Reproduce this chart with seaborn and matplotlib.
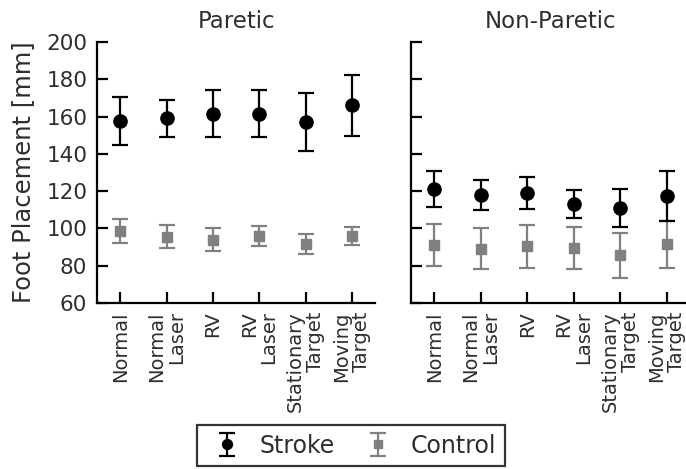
import numpy as np
import matplotlib
matplotlib.use('Agg')
import matplotlib.pyplot as plt
import seaborn as sns

conditions = ['Normal', 'Normal\nLaser', 'RV', 'RV\nLaser', 'Stationary\nTarget', 'Moving\nTarget']
panels = ['Paretic', 'Non-Paretic']

paretic_stroke = [157.5, 159, 161.5, 161.5, 157, 166]
paretic_stroke_err = [13, 10, 12.5, 12.5, 15.5, 16.5]
paretic_control = [98.5, 95.5, 94, 96, 91.5, 96]
paretic_control_err = [6.5, 6.2, 6.2, 5.2, 5.3, 4.7]

nonparetic_stroke = [121, 118, 119, 113, 111, 117.5]
nonparetic_stroke_err = [9.7, 8, 8.5, 7.4, 10.3, 13.5]
nonparetic_control = [91, 89, 90.5, 89.5, 85.5, 91.5]
nonparetic_control_err = [11.2, 11, 11.6, 11, 11.9, 12.6]

y_ticks = [60, 80, 100, 120, 140, 160, 180, 200]

sns.set_style('ticks')
text_color = '#2e2e2e'
plt.rcParams['font.family'] = ['DejaVu Sans']
plt.rcParams['text.color'] = text_color
plt.rcParams['axes.labelcolor'] = text_color
plt.rcParams['xtick.color'] = 'black'
plt.rcParams['ytick.color'] = 'black'
plt.rcParams['xtick.labelcolor'] = text_color
plt.rcParams['ytick.labelcolor'] = text_color

fig = plt.figure(figsize=(6.86, 4.69), dpi=100)
ax_left = fig.add_axes([97 / 686, 166 / 469, 278 / 686, 261 / 469])
ax_right = fig.add_axes([411 / 686, 166 / 469, 279 / 686, 261 / 469])

panel_data = [
    (ax_left, paretic_stroke, paretic_stroke_err, paretic_control, paretic_control_err),
    (ax_right, nonparetic_stroke, nonparetic_stroke_err, nonparetic_control, nonparetic_control_err),
]

x = np.arange(len(conditions))
handles = []
for i, (ax, s_val, s_err, c_val, c_err) in enumerate(panel_data):
    h_s = ax.errorbar(x, s_val, yerr=s_err, fmt='o', color='black', ms=9.5,
                      elinewidth=1.6, capsize=6, capthick=1.6, label='Stroke', zorder=3)
    h_c = ax.errorbar(x, c_val, yerr=c_err, fmt='s', color='#808080', ms=7,
                      elinewidth=1.6, capsize=6, capthick=1.6, label='Control', zorder=2)
    if i == 0:
        handles = [h_s, h_c]
    ax.set_xlim(-0.5, 5.5)
    ax.set_ylim(60, 200)
    ax.set_yticks(y_ticks)
    ax.set_xticks(x)
    ax.set_xticklabels(conditions, rotation=90, va='top', ha='center',
                       multialignment='right', fontsize=14, linespacing=1.05)
    ax.tick_params(direction='in', length=8, width=1.6, pad=6)
    ax.tick_params(axis='y', labelsize=15.5, pad=7)
    for side in ['left', 'bottom']:
        ax.spines[side].set_linewidth(1.6)
        ax.spines[side].set_color('black')
    sns.despine(ax=ax)
    ax.set_title(panels[i], fontsize=16.5, pad=10)

ax_right.tick_params(axis='y', labelleft=False)
ax_left.set_ylabel('Foot Placement [mm]', fontsize=17.5, labelpad=8)

leg = fig.legend(handles, ['Stroke', 'Control'], loc='lower center', ncol=2,
                 bbox_to_anchor=(351 / 686, 3 / 469), fontsize=17, frameon=True,
                 fancybox=False, handlelength=1.8, handletextpad=0.5, columnspacing=0.9,
                 borderpad=0.35, borderaxespad=0, markerscale=0.75)
leg.get_frame().set_edgecolor('black')
leg.get_frame().set_linewidth(1.6)

fig.savefig('out.png', dpi=100)
